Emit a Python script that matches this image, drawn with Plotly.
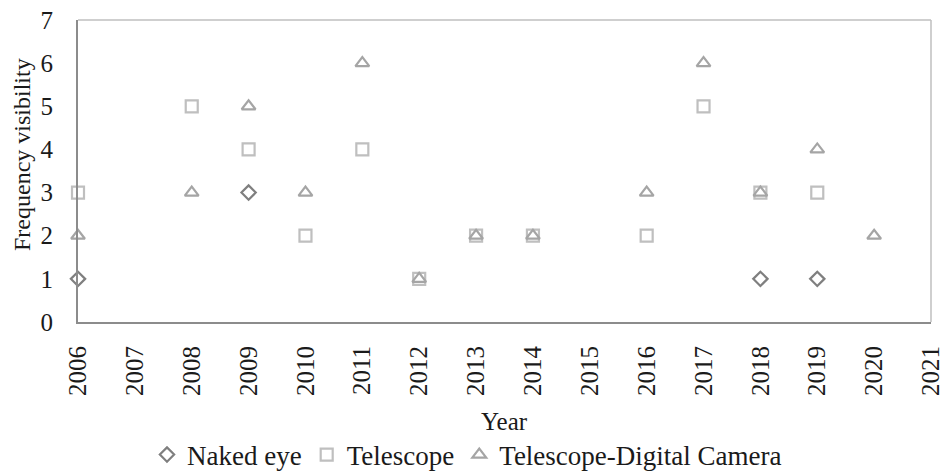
import plotly.graph_objects as go

naked_years = [2006, 2009, 2018, 2019]
naked_vals = [1, 3, 1, 1]

tele_years = [2006, 2008, 2009, 2010, 2011, 2012, 2013, 2014, 2016, 2017, 2018, 2019]
tele_vals = [3, 5, 4, 2, 4, 1, 2, 2, 2, 5, 3, 3]

cam_years = [2006, 2008, 2009, 2010, 2011, 2012, 2013, 2014, 2016, 2017, 2018, 2019, 2020]
cam_vals = [2, 3, 5, 3, 6, 1, 2, 2, 3, 6, 3, 4, 2]

year_ticks = list(range(2006, 2022))
y_ticks = list(range(0, 8))

FONT = "Liberation Serif"
FS = 25
TXT = "#1a1a1a"

W, H = 943, 471
PL, PR, PT, PB = 78, 931, 20, 322

fig = go.Figure()
fig.add_trace(go.Scatter(x=naked_years, y=naked_vals, mode="markers", name="Naked eye",
                         marker=dict(symbol="diamond-open", size=11, color="#7f7f7f",
                                     line=dict(width=2.2, color="#7f7f7f")),
                         cliponaxis=False))
fig.add_trace(go.Scatter(x=tele_years, y=tele_vals, mode="markers", name="Telescope",
                         marker=dict(symbol="square-open", size=12, color="#bfbfbf",
                                     line=dict(width=2.2, color="#bfbfbf")),
                         cliponaxis=False))
fig.add_trace(go.Scatter(x=cam_years, y=cam_vals, mode="markers", name="Telescope-Digital Camera",
                         marker=dict(symbol="triangle-up-open", size=12, color="#a5a5a5",
                                     line=dict(width=2.2, color="#a5a5a5")),
                         cliponaxis=False))

fig.update_layout(
    width=W, height=H,
    margin=dict(l=PL, r=W - PR, t=PT, b=H - PB, autoexpand=False),
    paper_bgcolor="white", plot_bgcolor="white",
    font=dict(family=FONT, size=FS, color=TXT),
    showlegend=True,
    legend=dict(orientation="h", xref="container", x=467 / W, xanchor="center",
                yref="container", y=(H - 455) / H, yanchor="middle",
                font=dict(family=FONT, size=27, color=TXT),
                itemwidth=30, bgcolor="rgba(0,0,0,0)"),
    xaxis=dict(range=[2006, 2021], tickmode="array", tickvals=year_ticks,
               ticktext=[str(y) for y in year_ticks], tickangle=-90,
               showgrid=False, zeroline=False, showline=True, linecolor="#8c8c8c",
               linewidth=2, ticks="", ticklabelstandoff=12, automargin=False,
               ticklabeloverflow="allow",
               tickfont=dict(family=FONT, size=FS, color=TXT)),
    yaxis=dict(range=[0, 7], tickmode="array", tickvals=y_ticks,
               showgrid=False, zeroline=False, showline=True, linecolor="#8c8c8c",
               linewidth=2, ticks="", ticklabelstandoff=18, automargin=False,
               ticklabeloverflow="allow",
               tickfont=dict(family=FONT, size=FS, color=TXT)),
    shapes=[dict(type="line", xref="paper", yref="paper", x0=0, x1=1, y0=1, y1=1,
                 line=dict(color="#bfbfbf", width=1.5)),
            dict(type="line", xref="paper", yref="paper", x0=1, x1=1, y0=0, y1=1,
                 line=dict(color="#bfbfbf", width=1.5))],
    annotations=[
        dict(text="Year", xref="paper", yref="paper", x=0.5, y=(PB - 421) / (PB - PT),
             xanchor="center", yanchor="middle", showarrow=False,
             font=dict(family=FONT, size=FS, color=TXT)),
        dict(text="Frequency visibility", xref="paper", yref="paper",
             x=(22 - PL) / (PR - PL), y=(PB - 155) / (PB - PT), textangle=-90,
             xanchor="center", yanchor="middle", showarrow=False,
             font=dict(family=FONT, size=24, color=TXT)),
    ],
)

fig.write_html("out.html", config={"displayModeBar": False},
               post_script="document.body.style.margin='0';")
